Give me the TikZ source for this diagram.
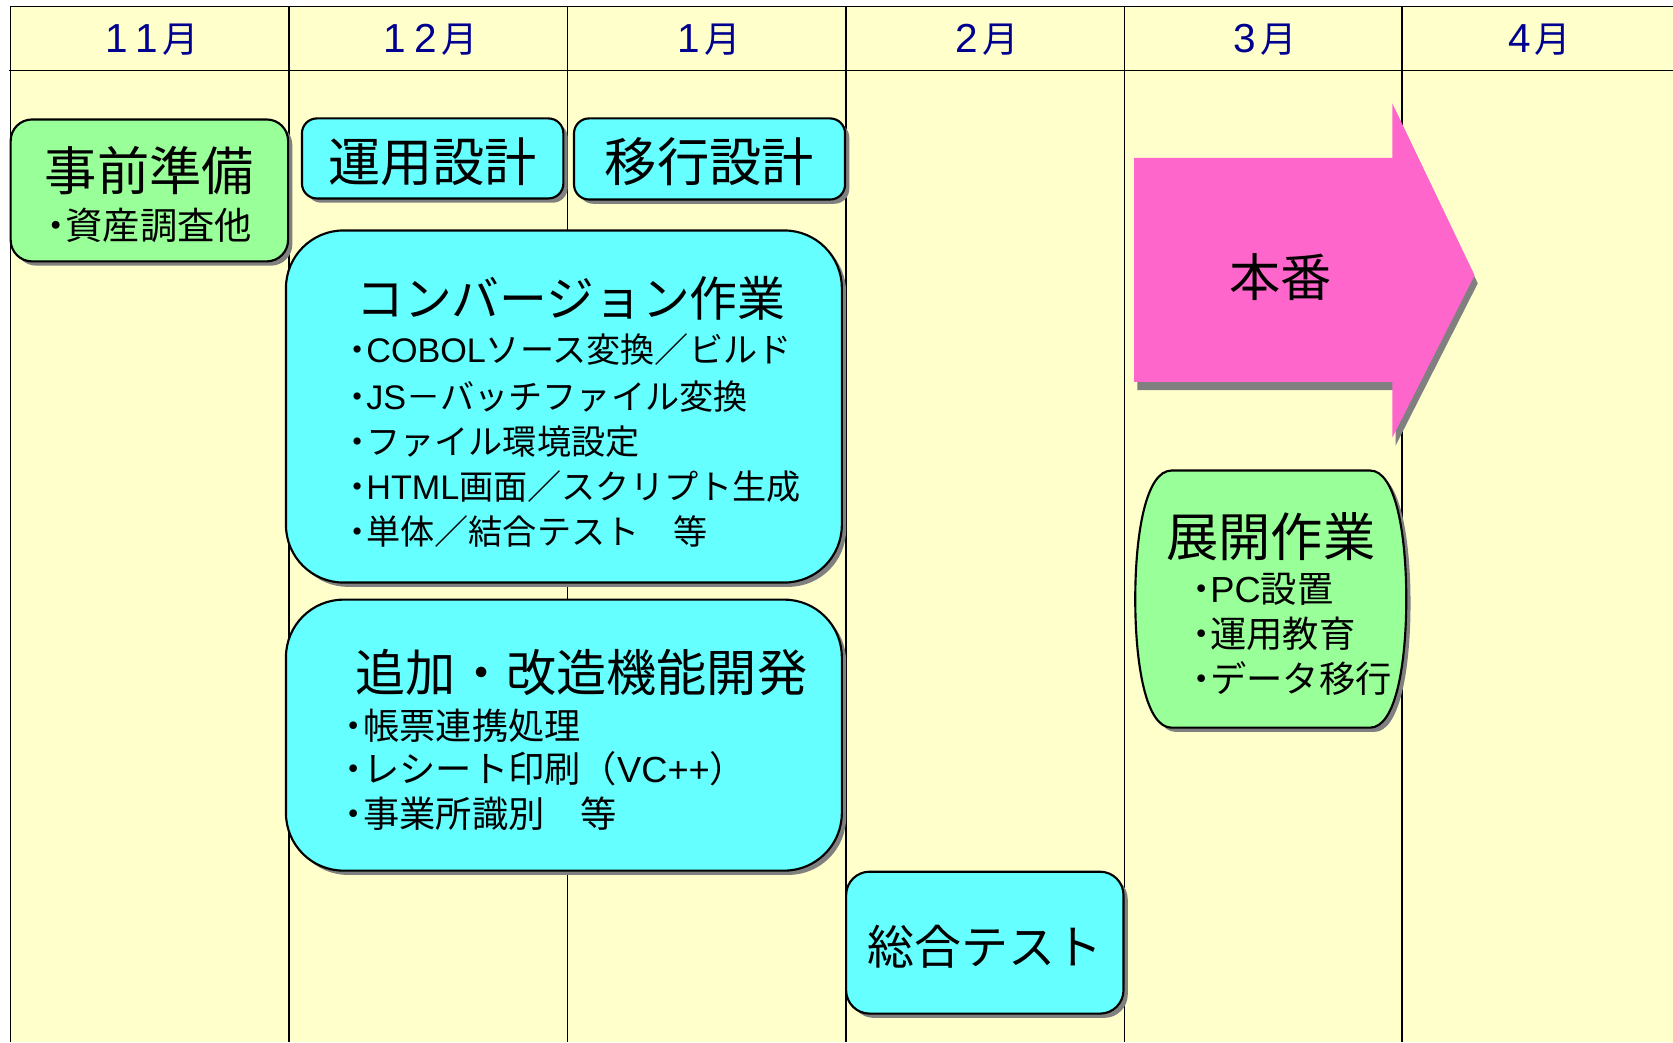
\documentclass[tikz,border=0pt]{standalone}
\usepackage{fontspec}
\setmainfont{Noto Sans CJK JP}
\newfontfamily\latf{Liberation Sans}
\usetikzlibrary{shadows}
\definecolor{bgyellow}{HTML}{FFFFCC}
\definecolor{boxgreen}{HTML}{99FF99}
\definecolor{boxcyan}{HTML}{66FFFF}
\definecolor{arrowpink}{HTML}{FF66CC}
\definecolor{shadowgray}{HTML}{808080}
\definecolor{monthblue}{HTML}{000090}
\newcommand{\jbul}{\makebox[0.5em][c]{・}}
\newcommand{\mdig}[1]{\makebox[14.5pt][c]{\latf\fontsize{19pt}{19pt}\selectfont #1}}
\tikzset{
  gridline/.style={line width=0.75pt, draw=black},
  roundbox/.style={draw=black, line width=1pt, inner sep=0pt,
    drop shadow={shadow xshift=2pt, shadow yshift=-2pt, opacity=1, fill=shadowgray}},
  month/.style={text=monthblue, inner sep=0pt, font=\fontsize{17pt}{17pt}\selectfont},
  bigtitle/.style={inner sep=0pt, font=\fontsize{24.5pt}{24.5pt}\selectfont},
  midtitle/.style={inner sep=0pt, font=\fontsize{22.4pt}{22.4pt}\selectfont},
  item/.style={inner sep=0pt, anchor=west, font=\fontsize{16pt}{16pt}\selectfont},
  itemb/.style={inner sep=0pt, anchor=west, font=\fontsize{17pt}{17pt}\selectfont},
}
\begin{document}
\begin{tikzpicture}[x=0.5pt,y=-0.5pt]
\useasboundingbox (0,0) rectangle (1568,977);
\fill[white] (0,0) rectangle (1568,977);
\fill[bgyellow] (10,6) rectangle (1568,977);
% grid
\draw[gridline] (10,6) -- (1568,6);
\draw[gridline] (8,66) -- (1568,66);
\foreach \gx in {10,271,532,793,1054,1314} {
  \draw[gridline] (\gx,6) -- (\gx,977);
}
% month labels
\node[month] (m11) at (140.5,37) {\mdig{1}\mdig{1}月};
\node[month] (m12) at (401.5,37) {\mdig{1}\mdig{2}月};
\node[month] (m1) at (662.5,37) {\mdig{1}月};
\node[month] (m2) at (923.5,37) {\mdig{2}月};
\node[month] (m3) at (1184,37) {\mdig{3}月};
\node[month] (m4) at (1441,37) {\mdig{4}月};
% boxes
\node[roundbox, fill=boxgreen, rounded corners=10pt, minimum width=130pt, minimum height=66.5pt] (prep) at (140,178.5) {};
\node[roundbox, fill=boxcyan, rounded corners=7pt, minimum width=122.5pt, minimum height=37.5pt] (opdes) at (405.5,148.5) {};
\node[roundbox, fill=boxcyan, rounded corners=7pt, minimum width=127pt, minimum height=38pt] (migdes) at (665,149) {};
\node[roundbox, fill=boxcyan, rounded corners=27pt, minimum width=260.5pt, minimum height=165pt] (conv) at (528.5,381) {};
\node[roundbox, fill=boxcyan, rounded corners=27pt, minimum width=260.5pt, minimum height=127pt] (addev) at (528.5,689) {};
\node[roundbox, fill=boxcyan, rounded corners=11pt, minimum width=130pt, minimum height=66.5pt] (systest) at (923,883.5) {};
% arrow (本番)
\fill[arrowpink, drop shadow={shadow xshift=1.5pt, shadow yshift=-3.8pt, opacity=1, fill=shadowgray}]
  (1063,148) -- (1305,148) -- (1305,97) -- (1382,258) -- (1305,410) -- (1305,358) -- (1063,358) -- cycle;
% deployment shape
\draw[fill=boxgreen, line width=1pt, drop shadow={shadow xshift=2pt, shadow yshift=-2pt, opacity=1, fill=shadowgray}]
  (1098,441) -- (1284,441) .. controls (1308,441) and (1318,500) .. (1318,561.5)
  .. controls (1318,623) and (1308,682) .. (1284,682) -- (1098,682)
  .. controls (1074,682) and (1064,623) .. (1064,561.5)
  .. controls (1064,500) and (1074,441) .. (1098,441) -- cycle;
% texts
\node[bigtitle] (prept) at (140,160) {事前準備};
\node[inner sep=0pt, font=\fontsize{17.5pt}{17.5pt}\selectfont] (prepi) at (140,211) {\jbul 資産調査他};
\node[bigtitle] (opdest) at (405.5,152) {運用設計};
\node[bigtitle] (migdest) at (665,152) {移行設計};
\node[midtitle] (convt) at (535,280) {コンバージョン作業};
\node[item] (c1) at (327,328) {\jbul {\latf COBOL}ソース変換／ビルド};
\node[item] (c2) at (327,372) {\jbul {\latf JS}－バッチファイル変換};
\node[item] (c3) at (327,414) {\jbul ファイル環境設定};
\node[item] (c4) at (327,456) {\jbul {\latf HTML}画面／スクリプト生成};
\node[item] (c5) at (327,498) {\jbul 単体／結合テスト　等};
\node[inner sep=0pt, font=\fontsize{23.5pt}{23.5pt}\selectfont] (addevt) at (545,630) {追加・改造機能開発};
\node[itemb] (a1) at (323,680) {\jbul 帳票連携処理};
\node[itemb] (a2) at (323,720) {\jbul レシート印刷（{\latf VC++}）};
\node[itemb] (a3) at (323,763) {\jbul 事業所識別　等};
\node[inner sep=0pt, font=\fontsize{22pt}{22pt}\selectfont] (systestt) at (923,887) {総合テスト};
\node[inner sep=0pt, font=\fontsize{24pt}{24pt}\selectfont] (prod) at (1200,260) {本番};
\node[bigtitle] (deployt) at (1191,503) {展開作業};
\node[itemb] (d1) at (1117,552) {\jbul {\latf PC}設置};
\node[itemb] (d2) at (1117,594) {\jbul 運用教育};
\node[itemb] (d3) at (1117,636) {\jbul データ移行};
\end{tikzpicture}
\end{document}
